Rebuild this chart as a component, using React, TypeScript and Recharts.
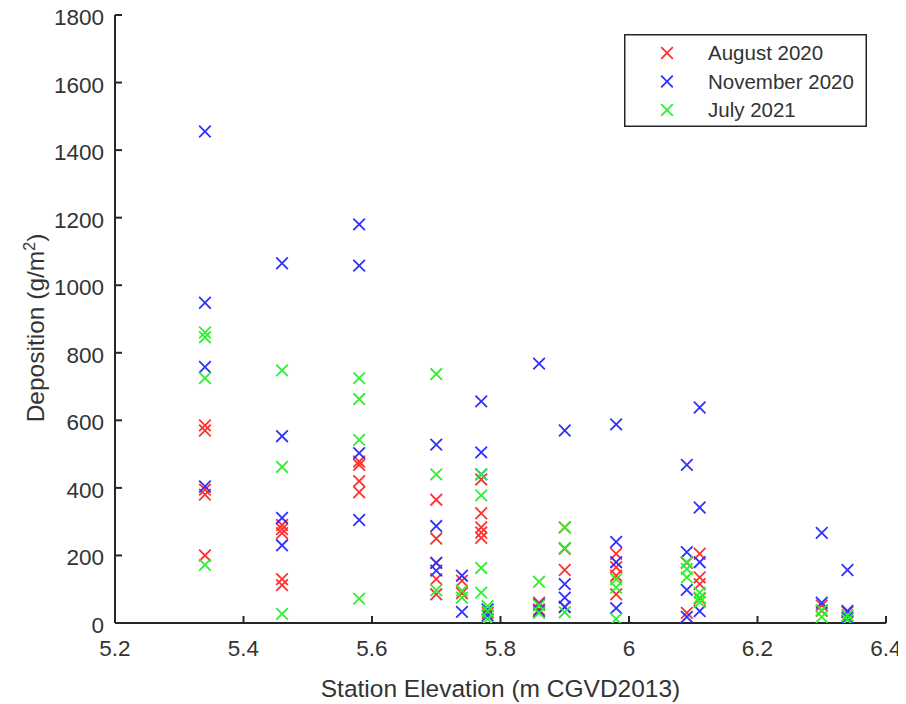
import React from "react";
import { ScatterChart, Scatter, XAxis, YAxis, Legend } from "recharts";

type Pt = [number, number];

// [station elevation (m CGVD2013), deposition (g/m²)]
const AUGUST_2020: Pt[] = [
  [5.34, 585], [5.34, 570], [5.34, 395], [5.34, 380], [5.34, 200],
  [5.46, 290], [5.46, 278], [5.46, 266], [5.46, 130], [5.46, 112],
  [5.58, 478], [5.58, 468], [5.58, 420], [5.58, 387],
  [5.7, 365], [5.7, 250], [5.7, 178], [5.7, 130], [5.7, 85],
  [5.74, 125], [5.74, 88],
  [5.77, 425], [5.77, 325], [5.77, 283], [5.77, 268], [5.77, 252],
  [5.78, 30],
  [5.86, 60], [5.86, 40],
  [5.9, 283], [5.9, 220], [5.9, 157], [5.9, 48],
  [5.98, 205], [5.98, 165], [5.98, 140], [5.98, 85],
  [6.09, 178], [6.09, 30],
  [6.11, 205], [6.11, 135], [6.11, 115], [6.11, 72],
  [6.3, 52], [6.3, 36],
  [6.34, 32], [6.34, 22],
];

const NOVEMBER_2020: Pt[] = [
  [5.34, 1455], [5.34, 948], [5.34, 758], [5.34, 404],
  [5.46, 1065], [5.46, 553], [5.46, 311], [5.46, 230],
  [5.58, 1180], [5.58, 1058], [5.58, 503], [5.58, 305],
  [5.7, 528], [5.7, 287], [5.7, 178], [5.7, 155],
  [5.74, 140], [5.74, 33],
  [5.77, 656], [5.77, 505], [5.77, 440],
  [5.78, 40], [5.78, 22],
  [5.86, 768], [5.86, 55], [5.86, 35],
  [5.9, 570], [5.9, 115], [5.9, 75], [5.9, 47],
  [5.98, 588], [5.98, 240], [5.98, 180], [5.98, 44],
  [6.09, 468], [6.09, 210], [6.09, 98], [6.09, 18],
  [6.11, 638], [6.11, 342], [6.11, 180], [6.11, 35],
  [6.3, 267], [6.3, 60],
  [6.34, 157], [6.34, 36], [6.34, 15],
];

const JULY_2021: Pt[] = [
  [5.34, 860], [5.34, 846], [5.34, 725], [5.34, 172],
  [5.46, 748], [5.46, 462], [5.46, 27],
  [5.58, 725], [5.58, 663], [5.58, 542], [5.58, 72],
  [5.7, 737], [5.7, 440], [5.7, 97],
  [5.74, 96], [5.74, 75],
  [5.77, 440], [5.77, 378], [5.77, 163], [5.77, 90],
  [5.78, 50], [5.78, 35], [5.78, 12],
  [5.86, 122], [5.86, 52], [5.86, 30],
  [5.9, 283], [5.9, 222], [5.9, 32],
  [5.98, 130], [5.98, 105], [5.98, 12],
  [6.09, 180], [6.09, 160], [6.09, 135],
  [6.11, 90], [6.11, 75], [6.11, 62],
  [6.3, 38], [6.3, 18],
  [6.34, 22], [6.34, 10],
];

const X_TICKS = [5.2, 5.4, 5.6, 5.8, 6.0, 6.2, 6.4];
const Y_TICKS = [0, 200, 400, 600, 800, 1000, 1200, 1400, 1600, 1800];

const SERIES = [
  { name: "August 2020", points: AUGUST_2020, color: "#ff3030" },
  { name: "November 2020", points: NOVEMBER_2020, color: "#3030ff" },
  { name: "July 2021", points: JULY_2021, color: "#30ee30" },
];

const FONT = '"Liberation Sans", Arial, Helvetica, sans-serif';
const AXIS = "#262626";
const TEXT = "#333333";

function Cross(props: any) {
  const { cx, cy, fill } = props;
  const r = 5.8;
  return (
    <path
      d={`M${cx - r},${cy - r}L${cx + r},${cy + r}M${cx - r},${cy + r}L${cx + r},${cy - r}`}
      stroke={fill}
      strokeWidth={1.8}
      fill="none"
    />
  );
}

function XTick({ x, y, payload }: any) {
  return (
    <g>
      <line x1={x} x2={x} y1={y} y2={y - 7} stroke={AXIS} strokeWidth={2} />
      <text x={x} y={y + 33} textAnchor="middle" fontSize={22.5} fontFamily={FONT} fill={TEXT}>
        {Number(payload.value.toFixed(1)).toString()}
      </text>
    </g>
  );
}

function YTick({ x, y, payload }: any) {
  // tickSize is 0, so the axis line sits one tickMargin to the right
  const axisX = x + 11;
  return (
    <g>
      <line x1={axisX} x2={axisX + 7} y1={y} y2={y} stroke={AXIS} strokeWidth={2} />
      <text x={x} y={y + 10} textAnchor="end" fontSize={22.5} fontFamily={FONT} fill={TEXT}>
        {payload.value}
      </text>
    </g>
  );
}

// legend keeps the plotting order rather than recharts' sorted payload
function LegendBox() {
  return (
    <svg width={243} height={93} style={{ display: "block" }}>
      <rect x={0.75} y={0.75} width={241.5} height={91.5} fill="#fff" stroke={AXIS} strokeWidth={1.5} />
      {SERIES.map((s, i) => {
        const cy = 19 + i * 28.5;
        return (
          <g key={s.name}>
            <Cross cx={43} cy={cy} fill={s.color} />
            <text x={84} y={cy + 7} fontSize={20.5} fontFamily={FONT} fill={TEXT}>
              {s.name}
            </text>
          </g>
        );
      })}
    </svg>
  );
}

export default function App() {
  // pull the chart over the body margin so it covers the whole page
  return (
    <div style={{ width: 906, height: 704, margin: "-8px 0 0 -8px", background: "#fff" }}>
      <ScatterChart width={906} height={704} margin={{ top: 15, right: 20, bottom: 21, left: 35 }}>
        <XAxis
          type="number"
          dataKey="x"
          domain={[5.2, 6.4]}
          ticks={X_TICKS}
          interval={0}
          allowDataOverflow
          height={60}
          axisLine={{ stroke: AXIS, strokeWidth: 2 }}
          tickLine={false}
          tickSize={0}
          tickMargin={0}
          tick={<XTick />}
          label={{
            content: ({ viewBox }: any) => (
              <text
                x={viewBox.x + viewBox.width / 2}
                y={viewBox.y + 74}
                textAnchor="middle"
                fontSize={24.5}
                fontFamily={FONT}
                fill={TEXT}
              >
                Station Elevation (m CGVD2013)
              </text>
            ),
          }}
        />
        <YAxis
          type="number"
          dataKey="y"
          domain={[0, 1800]}
          ticks={Y_TICKS}
          interval={0}
          allowDataOverflow
          width={80}
          axisLine={{ stroke: AXIS, strokeWidth: 2 }}
          tickLine={false}
          tickSize={0}
          tickMargin={11}
          tick={<YTick />}
          label={{
            content: () => (
              <text
                transform="translate(44, 328) rotate(-90)"
                textAnchor="middle"
                fontSize={24.5}
                fontFamily={FONT}
                fill={TEXT}
              >
                <tspan>Deposition (g/m</tspan>
                <tspan dy={-9} fontSize={16}>2</tspan>
                <tspan dy={9}>)</tspan>
              </text>
            ),
          }}
        />
        <Legend
          layout="vertical"
          align="center"
          verticalAlign="middle"
          wrapperStyle={{ left: 624, top: 34, width: 243, height: 93 }}
          content={<LegendBox />}
        />
        {SERIES.map((s) => (
          <Scatter
            key={s.name}
            name={s.name}
            data={s.points.map(([x, y]) => ({ x, y }))}
            fill={s.color}
            shape={<Cross />}
            legendType="cross"
            isAnimationActive={false}
          />
        ))}
      </ScatterChart>
    </div>
  );
}
